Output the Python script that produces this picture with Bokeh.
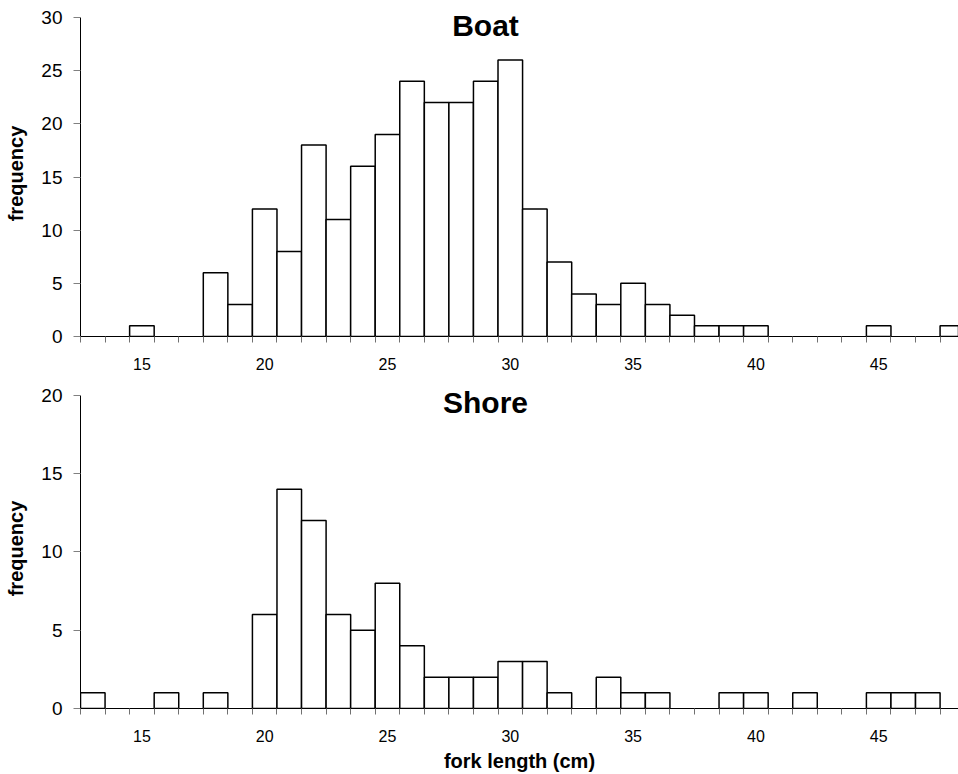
from bokeh.plotting import figure
from bokeh.layouts import column
from bokeh.models import FixedTicker, Label, Range1d
from bokeh.embed import file_html
from bokeh.resources import INLINE

# ---- data ----
boat_lengths = [15, 18, 19, 20, 21, 22, 23, 24, 25, 26, 27, 28, 29, 30, 31, 32,
                33, 34, 35, 36, 37, 38, 39, 40, 45, 48]
boat_counts = [1, 6, 3, 12, 8, 18, 11, 16, 19, 24, 22, 22, 24, 26, 12, 7,
               4, 3, 5, 3, 2, 1, 1, 1, 1, 1]

shore_lengths = [13, 16, 18, 20, 21, 22, 23, 24, 25, 26, 27, 28, 29, 30, 31, 32,
                 34, 35, 36, 39, 40, 42, 45, 46, 47]
shore_counts = [1, 1, 1, 6, 14, 12, 6, 5, 8, 4, 2, 2, 2, 3, 3, 1,
                2, 1, 1, 1, 1, 1, 1, 1, 1]

x_tick_values = [15, 20, 25, 30, 35, 40, 45]
bin_edges = [12.5 + i for i in range(37)]
boat_y_ticks = [0, 5, 10, 15, 20, 25, 30]
shore_y_ticks = [0, 5, 10, 15, 20]

FONT = "Liberation Sans"
X_START, X_END = 12.5, 48.25
LEFT = 80
FRAME_W = 958 - LEFT
AXIS_H = 319      # pixel height of the 0..max axis
HEADROOM = 7      # extra frame space above the axis top (for the title)
TOP_BORDER = 10


def make(lengths, counts, yticks, title, title_off, bottom_border, xlabel=None):
    ymax = yticks[-1]
    ppu_y = AXIS_H / ymax
    y_end = ymax + HEADROOM / ppu_y
    height = TOP_BORDER + AXIS_H + HEADROOM + bottom_border
    p = figure(width=958, height=height, output_backend="svg", toolbar_location=None,
               x_range=Range1d(X_START, X_END), y_range=Range1d(0, y_end),
               min_border_left=LEFT, min_border_right=0, min_border_top=TOP_BORDER,
               min_border_bottom=bottom_border)
    p.outline_line_color = None
    p.grid.visible = False
    p.background_fill_color = "white"
    p.border_fill_color = "white"

    p.vbar(x=lengths, top=counts, width=1.0, bottom=0,
           fill_color="white", line_color="black", line_width=1.5)

    # x axis
    xa = p.xaxis[0]
    xa.ticker = FixedTicker(ticks=x_tick_values, minor_ticks=bin_edges)
    xa.major_tick_out = 0
    xa.major_tick_in = 0
    xa.minor_tick_out = 6
    xa.minor_tick_in = 0
    xa.minor_tick_line_color = "#707070"
    xa.axis_line_color = "black"
    xa.major_label_text_font = FONT
    xa.major_label_text_font_size = "16px"
    xa.major_label_text_color = "black"
    xa.major_label_standoff = 15
    if xlabel:
        xa.axis_label = xlabel
        xa.axis_label_text_font = FONT
        xa.axis_label_text_font_size = "20px"
        xa.axis_label_text_font_style = "bold"
        xa.axis_label_text_color = "black"
        xa.axis_label_standoff = 5

    # y axis
    ya = p.yaxis[0]
    ya.ticker = FixedTicker(ticks=yticks)
    ya.bounds = (0, ymax)
    ya.major_tick_out = 7
    ya.major_tick_in = 0
    ya.major_tick_line_color = "#808080"
    ya.axis_line_color = "black"
    ya.major_label_text_font = FONT
    ya.major_label_text_font_size = "19px"
    ya.major_label_text_color = "black"
    ya.major_label_standoff = 11
    ya.axis_label = "frequency"
    ya.axis_label_text_font = FONT
    ya.axis_label_text_font_size = "20px"
    ya.axis_label_text_font_style = "bold"
    ya.axis_label_text_color = "black"
    ya.axis_label_standoff = 11

    # chart title inside the plot area
    ppu_x = FRAME_W / (X_END - X_START)
    tx = X_START + (485 - LEFT) / ppu_x
    ty = ymax - title_off / ppu_y
    p.add_layout(Label(x=tx, y=ty, text=title, text_align="center",
                       text_baseline="alphabetic", text_font=FONT,
                       text_font_size="30px", text_font_style="bold",
                       text_color="black"))
    return p


p1 = make(boat_lengths, boat_counts, boat_y_ticks, "Boat", 8, 42)
p2 = make(shore_lengths, shore_counts, shore_y_ticks, "Shore", 7, 60,
          xlabel="fork length (cm)")

layout = column(p1, p2, spacing=0)
open("out.html", "w").write(file_html(layout, INLINE))
